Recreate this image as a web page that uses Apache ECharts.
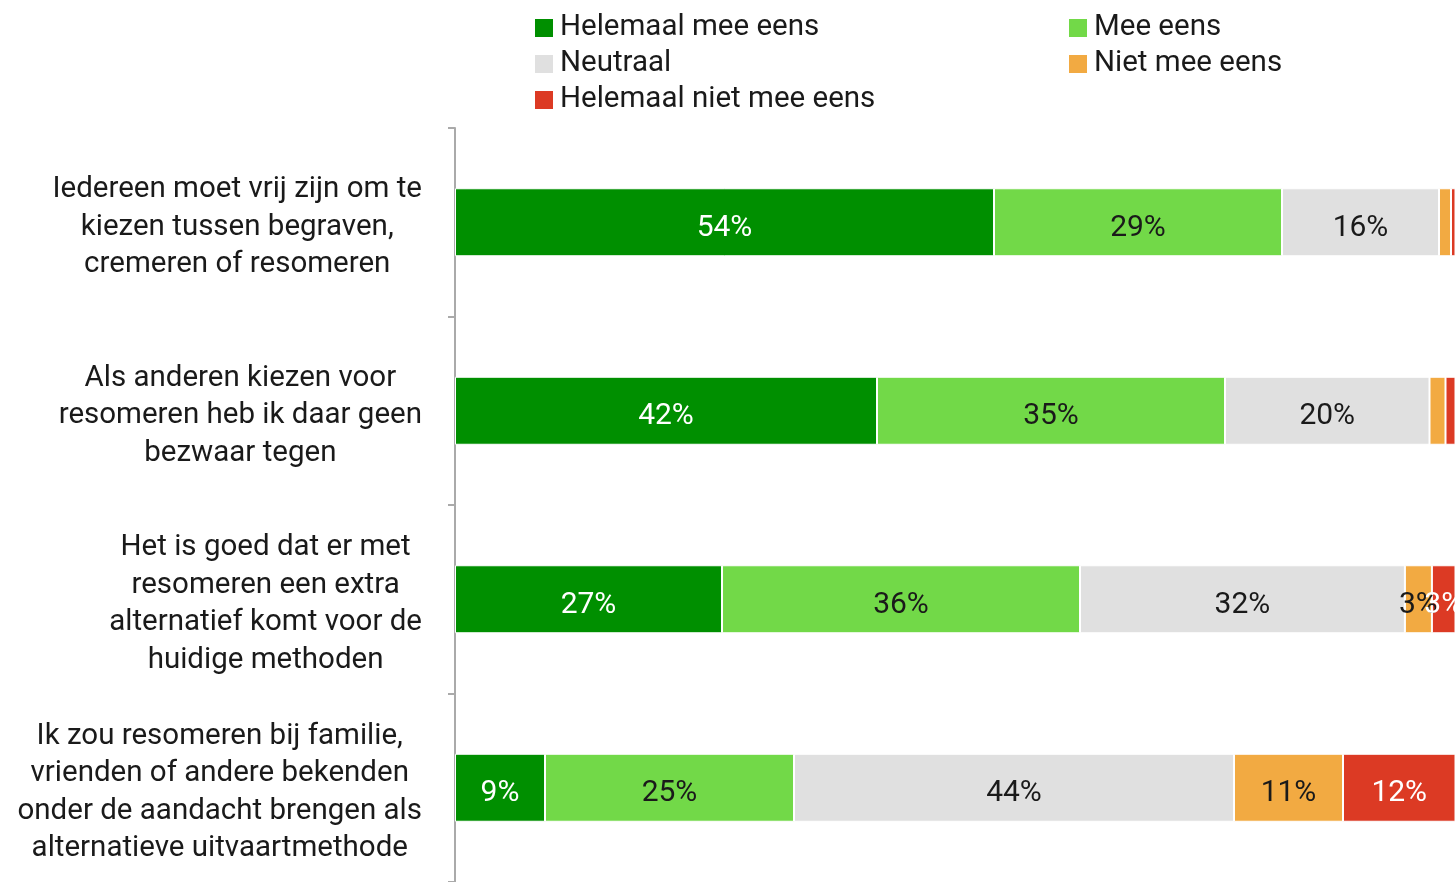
<!DOCTYPE html>
<html>
<head>
<meta charset="utf-8">
<script src="https://cdn.jsdelivr.net/npm/echarts@6/dist/echarts.min.js"></script>
<style>
  html, body { margin: 0; padding: 0; background: #fff; }
  #chart { width: 1455px; height: 882px; }
</style>
</head>
<body>
<div id="chart"></div>
<script>
// categorieen (van boven naar beneden)
var categories = [
  'Iedereen moet vrij zijn om te\nkiezen tussen begraven,\ncremeren of resomeren',
  'Als anderen kiezen voor\nresomeren heb ik daar geen\nbezwaar tegen',
  'Het is goed dat er met\nresomeren een extra\nalternatief komt voor de\nhuidige methoden',
  'Ik zou resomeren bij familie,\nvrienden of andere bekenden\nonder de aandacht brengen als\nalternatieve uitvaartmethode'
];

var seriesNames = ['Helemaal mee eens', 'Mee eens', 'Neutraal', 'Niet mee eens', 'Helemaal niet mee eens'];

// percentages per antwoord
var helemaalMeeEens = [53.9, 42.2, 26.7, 9.0];
var meeEens = [28.8, 34.8, 35.8, 24.9];
var neutraal = [15.7, 20.45, 32.49, 44.0];
var nietMeeEens = [1.2, 1.6, 2.7, 10.9];
var helemaalNietMeeEens = [1.0, 1.5, 3.0, 12.0];

var seriesData = [helemaalMeeEens, meeEens, neutraal, nietMeeEens, helemaalNietMeeEens];
var colors = ['#008f00', '#72d948', '#e0e0e0', '#f2aa42', '#dc3a24'];
var labelColors = ['#ffffff', '#1a1a1a', '#1a1a1a', '#1a1a1a', '#ffffff'];

var font = 'Roboto';
var myChart = echarts.init(document.getElementById('chart'));

var series = seriesNames.map(function (name, i) {
  return {
    name: name,
    type: 'bar',
    stack: 'totaal',
    barWidth: 68,
    data: seriesData[i],
    itemStyle: { color: colors[i], borderColor: '#fff', borderWidth: 1 },
    label: {
      show: true,
      position: 'inside',
      offset: [0, 6],
      color: labelColors[i],
      fontFamily: font,
      fontSize: 30,
      formatter: function (p) {
        return p.value < 2 ? '' : Math.round(p.value) + '%';
      }
    }
  };
});

var legendText = { fontFamily: font, fontSize: 29.5, color: '#1a1a1a', lineHeight: 30, padding: [0, 0, 0, 1] };

var option = {
  animation: false,
  color: colors,
  legend: [
    {
      orient: 'vertical', left: 528, top: 8, itemGap: 6,
      icon: 'rect', itemWidth: 20, itemHeight: 20,
      textStyle: legendText,
      data: [seriesNames[0], seriesNames[2], seriesNames[4]]
    },
    {
      orient: 'vertical', left: 1062, top: 8, itemGap: 6,
      icon: 'rect', itemWidth: 20, itemHeight: 20,
      textStyle: legendText,
      data: [seriesNames[1], seriesNames[3]]
    }
  ],
  grid: { left: 455, top: 128, right: 0, height: 760 },
  xAxis: {
    type: 'value', min: 0, max: 100,
    show: false
  },
  yAxis: {
    type: 'category',
    inverse: true,
    data: categories,
    axisLine: { show: true, lineStyle: { color: '#aaaaaa', width: 2 } },
    axisTick: { show: true, length: 7, lineStyle: { color: '#aaaaaa', width: 2 } },
    axisLabel: {
      margin: 33,
      padding: [10, 0, 0, 0],
      formatter: function (v) {
        return v.split('\n').map(function (l) { return '{c|' + l + '}'; }).join('\n');
      },
      rich: {
        c: { align: 'center', fontFamily: font, fontSize: 29.5, lineHeight: 37.5, color: '#1a1a1a' }
      }
    }
  },
  series: series
};

myChart.setOption(option);
</script>
</body>
</html>
